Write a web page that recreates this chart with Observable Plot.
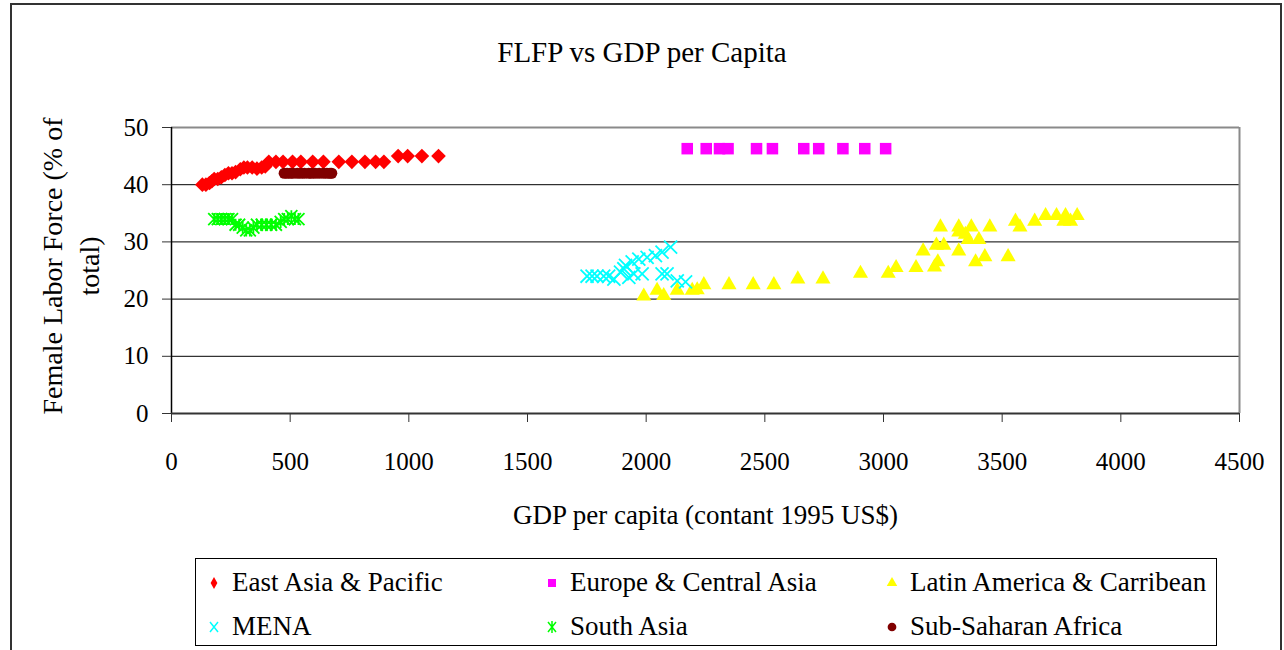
<!DOCTYPE html>
<html><head><meta charset="utf-8">
<script src="https://cdn.jsdelivr.net/npm/d3@7"></script>
<script src="https://cdn.jsdelivr.net/npm/@observablehq/plot@0.6"></script>
<style>
body{margin:0;background:#fff;}
#wrap{position:relative;width:1284px;height:650px;overflow:hidden;font-family:"Liberation Serif","Times New Roman",serif;color:#000;background:#fff;}
#frame{position:absolute;left:10px;top:3px;width:1272px;height:700px;border:2px solid #333;box-sizing:border-box;}
#chart{position:absolute;left:0;top:0;}
#title{position:absolute;left:0;width:1284px;top:38px;text-align:center;font-size:29px;line-height:29px;}
#ytitle{position:absolute;left:0;top:110px;width:130px;height:320px;}
#legend{position:absolute;left:195px;top:558px;width:1022px;height:88px;border:1.5px solid #000;box-sizing:border-box;background:#fff;}
.lt{position:absolute;font-size:27px;line-height:27px;white-space:nowrap;}
.lm{position:absolute;}
</style></head>
<body>
<div id="wrap">
  <div id="frame"></div>
  <div id="chart"></div>
  <div id="title">FLFP vs GDP per Capita</div>
  <div id="ytitle"></div>
  <div id="legend"></div>
</div>
<script>
// ---- Data ----
const regions = ["East Asia & Pacific","Europe & Central Asia","Latin America & Carribean","MENA","South Asia","Sub-Saharan Africa"];

const eapGdp  = [130,145,160,170,180,195,210,225,240,255,270,290,305,320,340,360,380,395,410,440,470,510,545,595,640,705,760,815,860,895,955,995,1055,1125];
const eapFlfp = [40,40,40.3,40.6,41,41,41.3,41.7,42,42,42.2,42.7,43,43,43,42.8,43,43.2,44,44,44,44,44,44,44,44,44,44,44,44,45,45,45,45];

const ecaGdp  = [2173,2253,2309,2345,2465,2532,2664,2727,2829,2921,3009];
const ecaFlfp = [46.3,46.3,46.3,46.3,46.3,46.3,46.3,46.3,46.3,46.3,46.3];

const lacGdp  = [1990,2046,2074,2131,2194,2215,2243,2349,2451,2538,2639,2745,2903,3020,3053,3137,3215,3229,3167,3223,3254,3240,3317,3317,3345,3370,3357,3402,3317,3388,3427,3448,3525,3556,3575,3637,3683,3729,3767,3760,3816,3788];
const lacFlfp = [20.5,21.5,20.6,21.5,21.5,21.6,22.5,22.5,22.5,22.5,23.5,23.5,24.5,24.5,25.5,25.5,25.6,26.5,28.4,29.4,29.4,32.6,32.6,31.7,31.3,32.6,30.4,30.4,28.4,26.5,27.4,32.6,27.4,33.6,32.6,33.6,34.6,34.6,34.6,33.6,34.6,33.6];

const menaGdp  = [1751,1772,1793,1821,1842,1864,1892,1906,1913,1927,1948,1941,1969,2004,2039,2067,2103,1983,2067,2088,2131,2166];
const menaFlfp = [24,24,24,24,24,23.5,24.7,25.3,25.9,23.8,24.4,26.5,27,27.3,27.6,28.2,29.1,24.4,24.4,24.4,23.2,23];

const saGdp  = [180,195,210,225,240,255,270,285,300,315,330,345,360,380,400,420,440,460,475,490,505,520,535];
const saFlfp = [34,34,34,34,34,34,33,33,32.5,32,32,32.5,33,33,33,33,33,33.5,34,34,34.5,34,34];

const ssaGdp  = [475,487,500,512,530,545,560,578,590,605,622,640,655,668,675];
const ssaFlfp = [42,42,42,42,42,42,42,42,42,42,42,42,42,42,42];

const xTicks = [0,500,1000,1500,2000,2500,3000,3500,4000,4500];
const yTicks = [0,10,20,30,40,50];

const chartTitle = "FLFP vs GDP per Capita";
const xLabel = "GDP per capita (contant 1995 US$)";
const yLabelLines = ["Female Labor Force (% of", "total)"];

// ---- Symbols ----
const asteriskSymbol = {draw(ctx, size){const r=Math.sqrt(size/Math.PI);ctx.moveTo(-r,-r);ctx.lineTo(r,r);ctx.moveTo(-r,r);ctx.lineTo(r,-r);ctx.moveTo(0,-r);ctx.lineTo(0,r);}};

const styles = [
  {gdp:eapGdp, flfp:eapFlfp, color:"#FF0000", symbol:"diamond2", r:6.6, filled:true},
  {gdp:ecaGdp, flfp:ecaFlfp, color:"#FF00FF", symbol:"square", r:6.5, filled:true},
  {gdp:lacGdp, flfp:lacFlfp, color:"#FFFF00", symbol:"triangle", r:5.6, filled:true},
  {gdp:menaGdp, flfp:menaFlfp, color:"#00FFFF", symbol:"times", r:6, filled:false},
  {gdp:saGdp, flfp:saFlfp, color:"#00FF00", symbol:asteriskSymbol, r:6, filled:false},
  {gdp:ssaGdp, flfp:ssaFlfp, color:"#800000", symbol:"circle", r:5.6, filled:true}
];

const rows = styles.flatMap((s,k) => s.gdp.map((g,i) => ({region: regions[k], gdp: g, flfp: s.flfp[i]})));

const dotMarks = styles.map((s,k) => Plot.dot(rows.filter(d => d.region === regions[k]), {
  x:"gdp", y:"flfp", symbol:s.symbol, r:s.r,
  fill: s.filled ? s.color : "none",
  stroke: s.filled ? "none" : s.color,
  strokeWidth: s.filled ? 0 : 1.8
}));

const chart = Plot.plot({
  width:1284, height:545,
  marginLeft:171, marginRight:45, marginTop:127, marginBottom:132,
  style:{fontFamily:'"Liberation Serif","Times New Roman",serif', fontSize:"25px", color:"#000", background:"transparent", overflow:"visible"},
  x:{domain:[0,4500]},
  y:{domain:[0,50]},
  marks:[
    Plot.ruleY(yTicks.filter(v => v > 0 && v < 50), {stroke:"#000", strokeWidth:1}),
    Plot.ruleY([50], {stroke:"#8a8a8a", strokeWidth:2}),
    Plot.ruleX([4500], {stroke:"#8a8a8a", strokeWidth:2}),
    Plot.ruleX([0], {stroke:"#000", strokeWidth:1.5}),
    Plot.ruleY([0], {stroke:"#333", strokeWidth:2}),
    Plot.axisY({ticks:yTicks, tickSize:9, tickPadding:14, fontSize:25, label:null, tickFormat:d3.format("d"), stroke:"#333"}),
    Plot.axisX({ticks:xTicks, tickSize:9, tickPadding:30, fontSize:25, label:null, tickFormat:d3.format("d"), stroke:"#333"}),
    Plot.text([xLabel], {text:d => d, frameAnchor:"bottom", dy:102, lineAnchor:"middle", fontSize:27}),
    ...dotMarks
  ]
});
document.getElementById("chart").appendChild(chart);

// ---- Y axis title ----
const ysvg = d3.select("#ytitle").append("svg").attr("width",130).attr("height",320)
  .style("font-family",'"Liberation Serif","Times New Roman",serif').style("font-size","28px");
ysvg.selectAll("text").data(yLabelLines).join("text")
  .attr("transform",(d,i) => `translate(${i===0?62:99},156) rotate(-90)`)
  .attr("text-anchor","middle").attr("fill","#000").text(d => d);

// ---- Legend ----
const legendPos = [[18,24],[356,24],[696,24],[18,68],[356,68],[696,68]];
const legendSym = [
  {d:d3.symbol(d3.symbolDiamond,40)(), fill:true},
  {d:d3.symbol(d3.symbolSquare,64)(), fill:true},
  {d:d3.symbol(d3.symbolTriangle,48)(), fill:true},
  {d:"M-4,-5L4,5M-4,5L4,-5", fill:false},
  {d:"M-4,-5L4,5M-4,5L4,-5M0,-6L0,6", fill:false},
  {d:d3.symbol(d3.symbolCircle,60)(), fill:true}
];
const leg = d3.select("#legend");
regions.forEach((name,k) => {
  const [mx,my] = legendPos[k];
  const s = leg.append("svg").attr("class","lm").attr("width",16).attr("height",16)
    .style("left",(mx-8)+"px").style("top",(my-8)+"px");
  s.append("path").attr("transform","translate(8,8)").attr("d",legendSym[k].d)
    .attr("fill",legendSym[k].fill ? styles[k].color : "none")
    .attr("stroke",legendSym[k].fill ? "none" : styles[k].color)
    .attr("stroke-width",1.5);
  leg.append("div").attr("class","lt").style("left",(mx+18)+"px").style("top",(my-14)+"px").text(name);
});
</script>
</body></html>
